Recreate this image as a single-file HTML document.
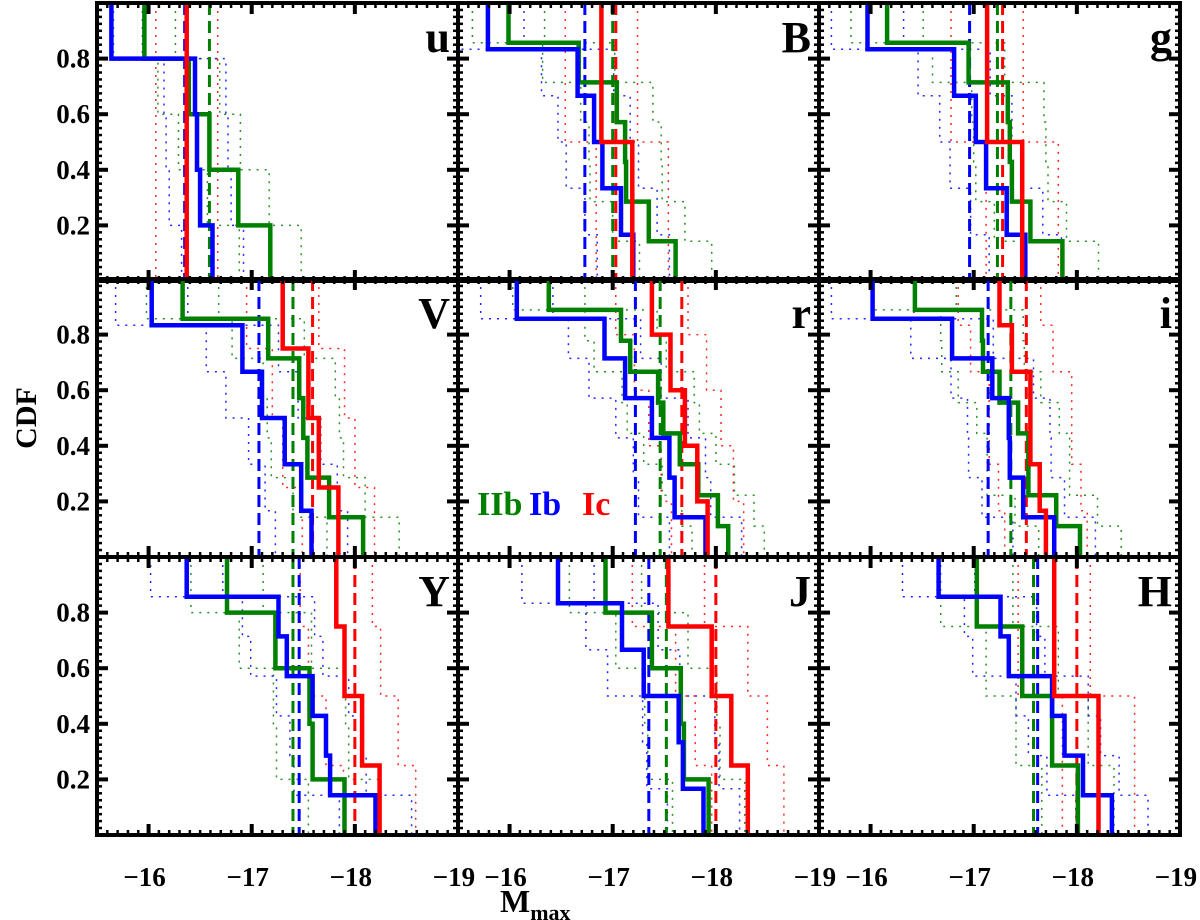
<!DOCTYPE html>
<html><head><meta charset="utf-8"><style>
html,body{margin:0;padding:0;background:#fff;}
svg{display:block;}
text{font-family:"Liberation Serif",serif;font-weight:bold;fill:#000;}
</style></head><body>
<svg id="chart" width="1200" height="920" viewBox="0 0 1200 920" xmlns="http://www.w3.org/2000/svg"></svg>
<script>
const bands = ['u','B','g','V','r','i','Y','J','H'];
const xTicks = [-16,-17,-18,-19];
const xTickLabels = ['\u221216','\u221217','\u221218','\u221219'];
const yTicks = [0.2,0.4,0.6,0.8];
const yTickLabels = ['0.2','0.4','0.6','0.8'];
const IIbValues = [
  [-15.96,-16.39,-16.59,-16.87,-17.18],
  [-15.99,-16.67,-17.04,-17.12,-17.13,-17.35,-17.61],
  [-16.16,-16.95,-17.33,-17.35,-17.37,-17.55,-17.86],
  [-16.33,-17.16,-17.46,-17.50,-17.54,-17.75,-18.08],
  [-16.38,-17.08,-17.17,-17.44,-17.49,-17.65,-17.83,-18.02,-18.12],
  [-16.43,-17.08,-17.09,-17.25,-17.43,-17.53,-17.53,-17.80,-18.03],
  [-16.76,-17.23,-17.56,-17.59,-17.90],
  [-16.93,-17.38,-17.66,-17.69,-17.93],
  [-17.03,-17.47,-17.76,-18.01]
];
const IbValues = [
  [-15.64,-16.45,-16.47,-16.50,-16.62],
  [-15.79,-16.66,-16.82,-16.90,-17.08,-17.20],
  [-15.97,-16.81,-17.02,-17.12,-17.32,-17.50],
  [-16.03,-16.91,-17.10,-17.32,-17.48,-17.58],
  [-16.07,-16.92,-17.12,-17.38,-17.55,-17.60,-17.90],
  [-16.02,-16.79,-17.18,-17.34,-17.35,-17.48,-17.78],
  [-16.37,-17.26,-17.34,-17.59,-17.72,-17.76,-18.20],
  [-16.47,-17.09,-17.30,-17.64,-17.68,-17.88],
  [-16.66,-17.26,-17.34,-17.76,-17.88,-18.06,-18.34]
];
const IcValues = [
  [-16.37],
  [-16.89,-17.19],
  [-17.13,-17.47],
  [-17.30,-17.55,-17.65,-17.84],
  [-17.38,-17.56,-17.70,-17.82,-17.92],
  [-17.25,-17.37,-17.55,-17.55,-17.64,-17.70],
  [-17.82,-17.90,-18.07,-18.24],
  [-17.54,-17.96,-18.15,-18.31],
  [-17.78,-18.21]
];
const IIbMeans = [-16.59,-17.00,-17.23,-17.40,-17.46,-17.36,-17.40,-17.52,-17.58];
const IbMeans  = [-16.35,-16.73,-16.96,-17.07,-17.22,-17.14,-17.46,-17.35,-17.62];
const IcMeans  = [-16.37,-17.03,-17.28,-17.59,-17.67,-17.51,-18.00,-18.00,-18.00];
const errSpread = [0.3,0.35,0.35,0.35,0.35,0.4,0.35,0.35,0.35];

const NS='http://www.w3.org/2000/svg';
const svg=document.getElementById('chart');
const colLeft=[97,458,819], colW=361, rowTop=[3,279,557], rowH=278;
const xMin=-15.5, xMax=-19.0;
function xScale(c,v){return colLeft[c]+(v-xMin)/(xMax-xMin)*colW;}
function yScale(r,v){return rowTop[r]+rowH*(1-v);}
function el(tag,attrs,parent){const e=document.createElementNS(NS,tag);for(const k in attrs)e.setAttribute(k,attrs[k]);(parent||svg).appendChild(e);return e;}
function stepPath(c,r,vals,shift){
  const n=vals.length;let d='M'+xScale(c,vals[0]+shift).toFixed(1)+','+yScale(r,1).toFixed(1);
  for(let i=0;i<n;i++){
    const x=xScale(c,vals[i]+shift);
    if(i>0)d+=' H'+x.toFixed(1);
    d+=' V'+yScale(r,(n-i-1)/n).toFixed(1);
  }
  return d;
}
const series=[
  {name:'IIb',vals:IIbValues,means:IIbMeans,color:'#008000'},
  {name:'Ib',vals:IbValues,means:IbMeans,color:'#0000ff'},
  {name:'Ic',vals:IcValues,means:IcMeans,color:'#ff0000'}
];
bands.forEach((b,p)=>{
  const c=p%3,r=Math.floor(p/3);
  const g=el('g',{});
  
  
  const clip=el('clipPath',{id:'clip'+p},g);
  el('rect',{x:colLeft[c],y:rowTop[r],width:colW,height:rowH},clip);
  const inner=el('g',{'clip-path':'url(#clip'+p+')'},g);
  series.forEach(s=>{
    [-1,1].forEach(sg=>{
      const e=el('path',{d:stepPath(c,r,s.vals[p],sg*errSpread[p]),fill:'none',stroke:s.color,'stroke-width':1.5,'stroke-dasharray':'2,6',opacity:0.85},inner);
      
      
    });
  });
  series.forEach(s=>{
    const mx=xScale(c,s.means[p]);
    const m=el('line',{x1:mx,x2:mx,y1:rowTop[r],y2:rowTop[r]+rowH,stroke:s.color,'stroke-width':3,'stroke-dasharray':'12,6'},inner);
    
    
  });
  series.forEach(s=>{
    const e=el('path',{d:stepPath(c,r,s.vals[p],0),fill:'none',stroke:s.color,'stroke-width':4.5,'stroke-linejoin':'miter'},inner);
    
    
  });
  const L=colLeft[c],R=L+colW,T=rowTop[r],B=T+rowH;
  for(let v=-15.5;v>=-19.0001;v-=0.1){
    const x=xScale(c,v);const major=Math.abs(v-Math.round(v))<0.01;
    const len=major?11:5,w=major?4:2.5;
    el('line',{x1:x,x2:x,y1:B,y2:B-len,stroke:'#000','stroke-width':w},g);
    el('line',{x1:x,x2:x,y1:T,y2:T+len,stroke:'#000','stroke-width':w},g);
  }
  for(let k=1;k<40;k++){
    const v=k*0.025;const y=yScale(r,v);const major=k%8===0;
    const len=major?11:5,w=major?4:2.5;
    el('line',{x1:L,x2:L+len,y1:y,y2:y,stroke:'#000','stroke-width':w},g);
    el('line',{x1:R,x2:R-len,y1:y,y2:y,stroke:'#000','stroke-width':w},g);
  }
  const fr=el('rect',{x:L,y:T,width:colW,height:rowH,fill:'none',stroke:'#000','stroke-width':4},g);
  
  
  const t=el('text',{x:R-8,y:T+49,'text-anchor':'end','font-size':44},g);
  t.textContent=b;
  
  
});
for(let r=0;r<3;r++){
  yTicks.forEach((v,i)=>{
    const t=el('text',{x:90,y:yScale(r,v)+9,'text-anchor':'end','font-size':27});
    t.textContent=yTickLabels[i];
    
    
  });
}
for(let c=0;c<3;c++){
  xTicks.forEach((v,i)=>{
    const t=el('text',{x:xScale(c,v)-4,y:886,'text-anchor':'middle','font-size':27});
    t.textContent=xTickLabels[i];
    
    
  });
}
const yt=el('text',{x:0,y:0,'text-anchor':'middle','font-size':30,transform:'translate(36,418) rotate(-90)'});
yt.textContent='CDF';


const xt=el('text',{x:500,y:912,'font-size':32});
xt.innerHTML='M<tspan font-size="22" dy="8">max</tspan>';


const lg=[['IIb','#008000',477],['Ib','#0000ff',529],['Ic','#ff0000',582]];
lg.forEach(l=>{
  const t=el('text',{x:l[2],y:515,'font-size':34,style:'fill:'+l[1]});
  t.textContent=l[0];
  
  
});
</script>
</body></html>
